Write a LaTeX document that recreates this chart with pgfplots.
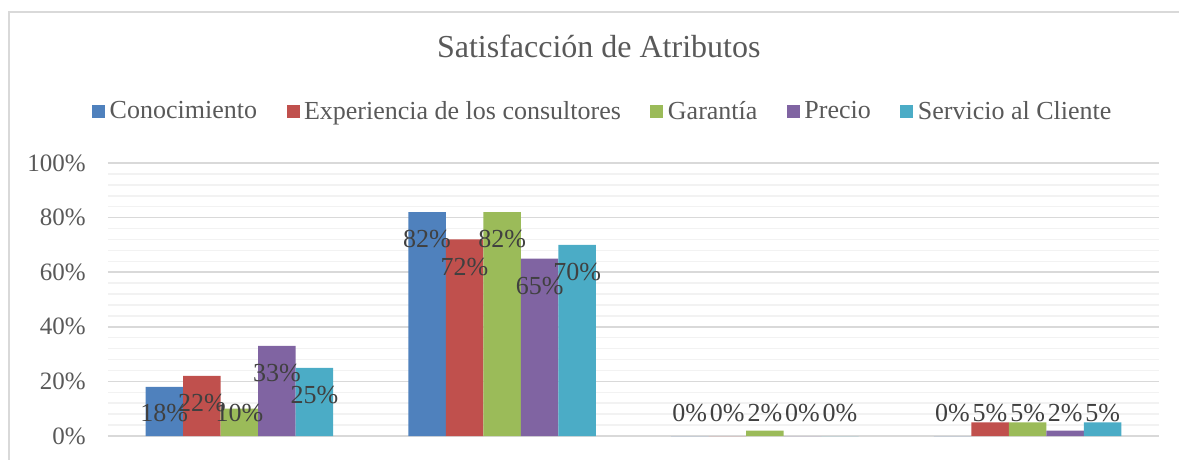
\documentclass[border=0pt]{standalone}
\usepackage{pgfplots}
\pgfplotsset{compat=1.18}
\usepackage{fontspec}
\setmainfont{Liberation Serif}
\definecolor{c1}{HTML}{4F81BD}
\definecolor{c2}{HTML}{C0504D}
\definecolor{c3}{HTML}{9BBB59}
\definecolor{c4}{HTML}{8064A2}
\definecolor{c5}{HTML}{4BACC6}
\definecolor{txt}{HTML}{595959}
\definecolor{lbl}{HTML}{404040}
\definecolor{grmaj}{HTML}{D9D9D9}
\definecolor{grmin}{HTML}{F2F2F2}
\begin{document}
\begin{tikzpicture}
\begin{axis}[
  at={(0pt,0pt)}, anchor=south west,
  scale only axis, width=1051pt, height=273pt,
  ybar=0pt, bar width=37.54pt,
  xmin=-0.5, xmax=3.5, ymin=0, ymax=100,
  xtick=\empty,
  ytick={0,20,...,100}, minor y tick num=4,
  ymajorgrids, yminorgrids,
  major grid style={draw=grmaj, line width=1.5pt},
  minor grid style={draw=grmin, line width=1.5pt},
  axis line style={draw=none},
  major tick length=0pt, minor tick length=0pt,
  /pgf/number format/assume math mode=true,
  yticklabel={\pgfmathprintnumber{\tick}\%},
  yticklabel style={font=\fontsize{25}{29}\selectfont, text=txt, anchor=east, inner sep=0pt, xshift=-22pt},
  clip=false,
  title={Satisfacción de Atributos},
  title style={at={(0.467,1.4066)}, anchor=center, font=\fontsize{32}{38}\selectfont, text=txt, inner sep=0pt},
  legend columns=5,
  legend style={at={(0.472,1.19)}, anchor=center, draw=none, fill=none,
    font=\fontsize{26}{30}\selectfont, text=txt,
    /tikz/every even column/.append style={column sep=25pt},
    nodes={inner xsep=4.5pt, inner ysep=0pt}},
  legend image code/.code={\fill[#1] (0pt,-6.5pt) rectangle (13pt,6.5pt);},
  nodes near coords={\pgfmathprintnumber{\pgfplotspointmeta}\%},
  visualization depends on={rawy \as \rawy},
  every node near coord/.append style={font=\fontsize{26}{30}\selectfont, text=lbl, anchor=center, inner sep=0pt, yshift={max(-10,8.5-\rawy)*2.73pt}},
]
\addplot[fill=c1, draw=none] coordinates {(0,18) (1,82) (2,0) (3,0)};
\addplot[fill=c2, draw=none] coordinates {(0,22) (1,72) (2,0) (3,5)};
\addplot[fill=c3, draw=none] coordinates {(0,10) (1,82) (2,2) (3,5)};
\addplot[fill=c4, draw=none] coordinates {(0,33) (1,65) (2,0) (3,2)};
\addplot[fill=c5, draw=none] coordinates {(0,25) (1,70) (2,0) (3,5)};
\legend{Conocimiento, Experiencia de los consultores, Garantía, Precio, Servicio al Cliente}
\end{axis}
\draw[grmaj, line width=1.5pt] (-99pt,-40pt) -- (-99pt,424pt) -- (1090pt,424pt);
\pgfresetboundingbox
\useasboundingbox (-108pt,-23pt) rectangle (1071pt,436pt);
\end{tikzpicture}
\end{document}
